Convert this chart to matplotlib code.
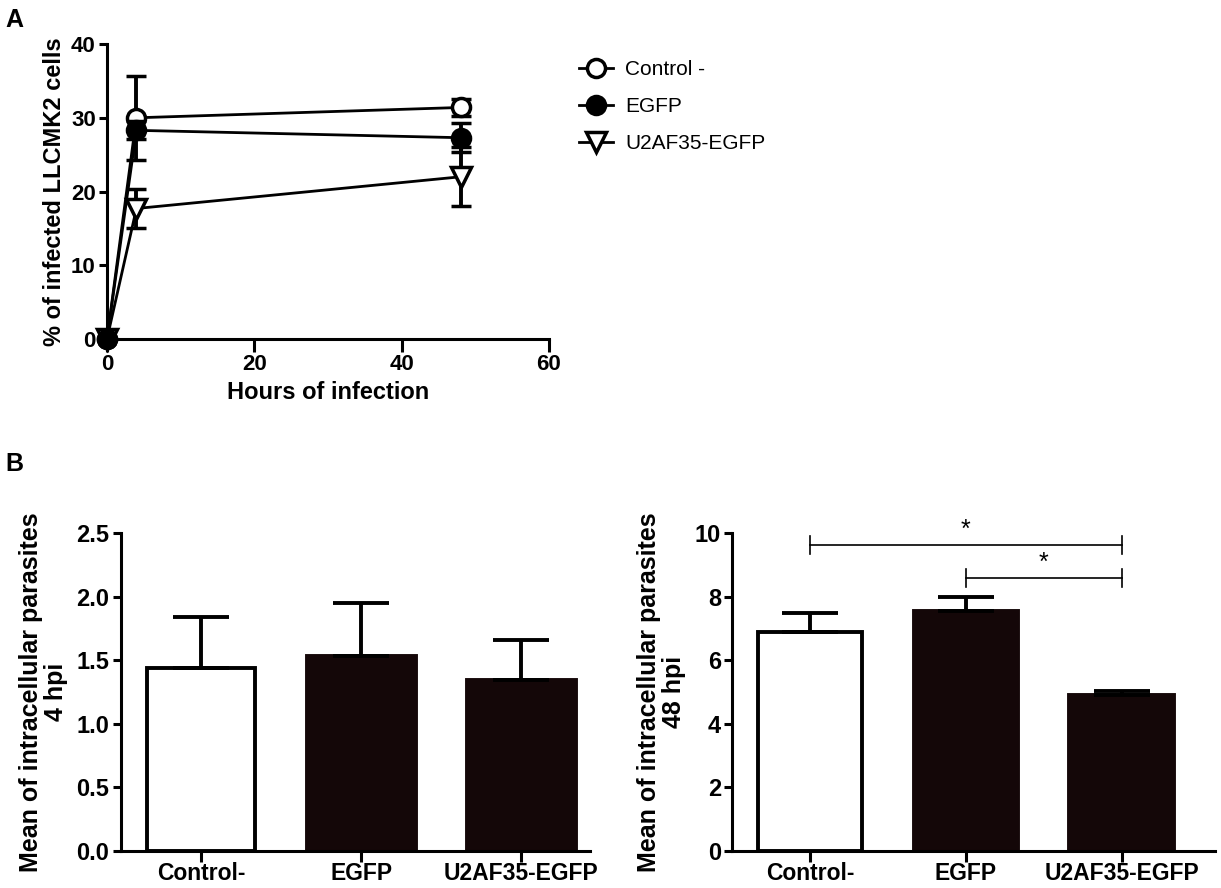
import numpy as np
import matplotlib.pyplot as plt

plt.rcParams['font.family'] = ['Liberation Sans', 'DejaVu Sans']
plt.rcParams['font.weight'] = 'bold'

# Panel A data
hours = [0, 4, 48]
ctrl_mean = [0, 30.0, 31.4]
ctrl_err = [0, 5.7, 1.1]
egfp_mean = [0, 28.3, 27.3]
egfp_err = [0, 1.2, 2.0]
u2af_mean = [0, 17.7, 22.0]
u2af_err = [0, 2.7, 4.0]

# Panel B data
groups = ['Control-', 'EGFP', 'U2AF35-EGFP']
hpi4_mean = [1.44, 1.53, 1.34]
hpi4_err = [0.40, 0.42, 0.32]
hpi48_mean = [6.88, 7.55, 4.91]
hpi48_err = [0.60, 0.45, 0.12]

dark = '#140708'

fig = plt.figure(figsize=(12.21, 8.88), dpi=100)

def style(ax, size):
    for s in ['top', 'right']:
        ax.spines[s].set_visible(False)
    for s in ['left', 'bottom']:
        ax.spines[s].set_linewidth(2.2)
    ax.tick_params(width=2.2, length=6, labelsize=size, direction='out', pad=2)
    for lab in ax.get_xticklabels() + ax.get_yticklabels():
        lab.set_fontweight('bold')

# ---- A ----
axA = fig.add_axes([0.0876, 0.6182, 0.362, 0.3322])
ekw = dict(elinewidth=2.8, capsize=7, capthick=2.8, lw=2.0, color='black', clip_on=False)
axA.errorbar(hours, ctrl_mean, yerr=ctrl_err, marker='o', ms=13, mfc='white', mec='black', mew=2.5,
             label='Control -', zorder=3, **ekw)
axA.errorbar(hours, u2af_mean, yerr=u2af_err, marker='v', ms=15, mfc='white', mec='black', mew=2.5,
             label='U2AF35-EGFP', zorder=3, **ekw)
axA.errorbar(hours, egfp_mean, yerr=egfp_err, marker='o', ms=13, mfc='black', mec='black', mew=2.5,
             label='EGFP', zorder=4, **ekw)
axA.set_xlim(0, 60)
axA.set_ylim(0, 40)
axA.set_xticks([0, 20, 40, 60])
axA.set_yticks([0, 10, 20, 30, 40])
axA.set_xlabel('Hours of infection', fontsize=17, fontweight='bold', labelpad=4)
axA.set_ylabel('% of infected LLCMK2 cells', fontsize=17, fontweight='bold', labelpad=4)
style(axA, 16)
axA.tick_params(axis='x', length=9)
h, l = axA.get_legend_handles_labels()
h = [x[0] for x in h]
order = [0, 2, 1]
fig.legend([h[i] for i in order], [l[i] for i in order], loc='upper left',
           bbox_to_anchor=(0.459, 0.953), frameon=False,
           handlelength=1.6, handletextpad=0.6, labelspacing=0.85,
           prop={'weight': 'normal', 'size': 15})

# ---- B left ----
x = np.arange(len(groups))
axB1 = fig.add_axes([0.0987, 0.042, 0.3845, 0.3578])
colors = ['white', dark, dark]
axB1.bar(x, hpi4_mean, width=0.68, color=colors, edgecolor=['black', dark, dark], linewidth=2.8,
         yerr=[[0, 0, 0], hpi4_err], error_kw=dict(elinewidth=2.8, capsize=20, capthick=2.8, ecolor='black'))
axB1.set_xlim(-0.503, 2.43)
axB1.set_ylim(0, 2.5)
axB1.set_yticks([0, 0.5, 1.0, 1.5, 2.0, 2.5])
axB1.set_yticklabels(['0.0', '0.5', '1.0', '1.5', '2.0', '2.5'])
axB1.set_xticks(x)
axB1.set_xticklabels(groups)
axB1.set_ylabel('Mean of intracellular parasites\n4 hpi', fontsize=18, fontweight='bold',
                linespacing=1.05, labelpad=6)
style(axB1, 17)
axB1.tick_params(axis='x', length=8, pad=0, labelsize=16.5)

# ---- B right ----
axB2 = fig.add_axes([0.5995, 0.042, 0.3956, 0.3578])
axB2.bar(x, hpi48_mean, width=0.67, color=colors, edgecolor=['black', dark, dark], linewidth=2.8,
         yerr=[[0, 0, 0], hpi48_err], error_kw=dict(elinewidth=2.8, capsize=20, capthick=2.8, ecolor='black'))
axB2.set_xlim(-0.503, 2.6)
axB2.set_ylim(0, 10)
axB2.set_yticks([0, 2, 4, 6, 8, 10])
axB2.set_xticks(x)
axB2.set_xticklabels(groups)
axB2.set_ylabel('Mean of intracellular parasites\n48 hpi', fontsize=18, fontweight='bold',
                linespacing=1.05, labelpad=6)
style(axB2, 17)
axB2.tick_params(axis='x', length=8, pad=0, labelsize=16.5)

# significance brackets
for (a, b, yb) in [(0, 2, 9.62), (1, 2, 8.58)]:
    axB2.plot([a, b], [yb, yb], color='black', lw=1.2, clip_on=False)
    for xx in (a, b):
        axB2.plot([xx, xx], [yb - 0.28, yb + 0.28], color='black', lw=1.2, clip_on=False)
    axB2.text((a + b) / 2, yb + 0.1, '*', ha='center', va='bottom', fontsize=18, fontweight='normal')

fig.text(0.004, 0.978, 'A', fontsize=18, fontweight='bold', va='center')
fig.text(0.004, 0.477, 'B', fontsize=18, fontweight='bold', va='center')

fig.savefig('out.png', dpi=100)
